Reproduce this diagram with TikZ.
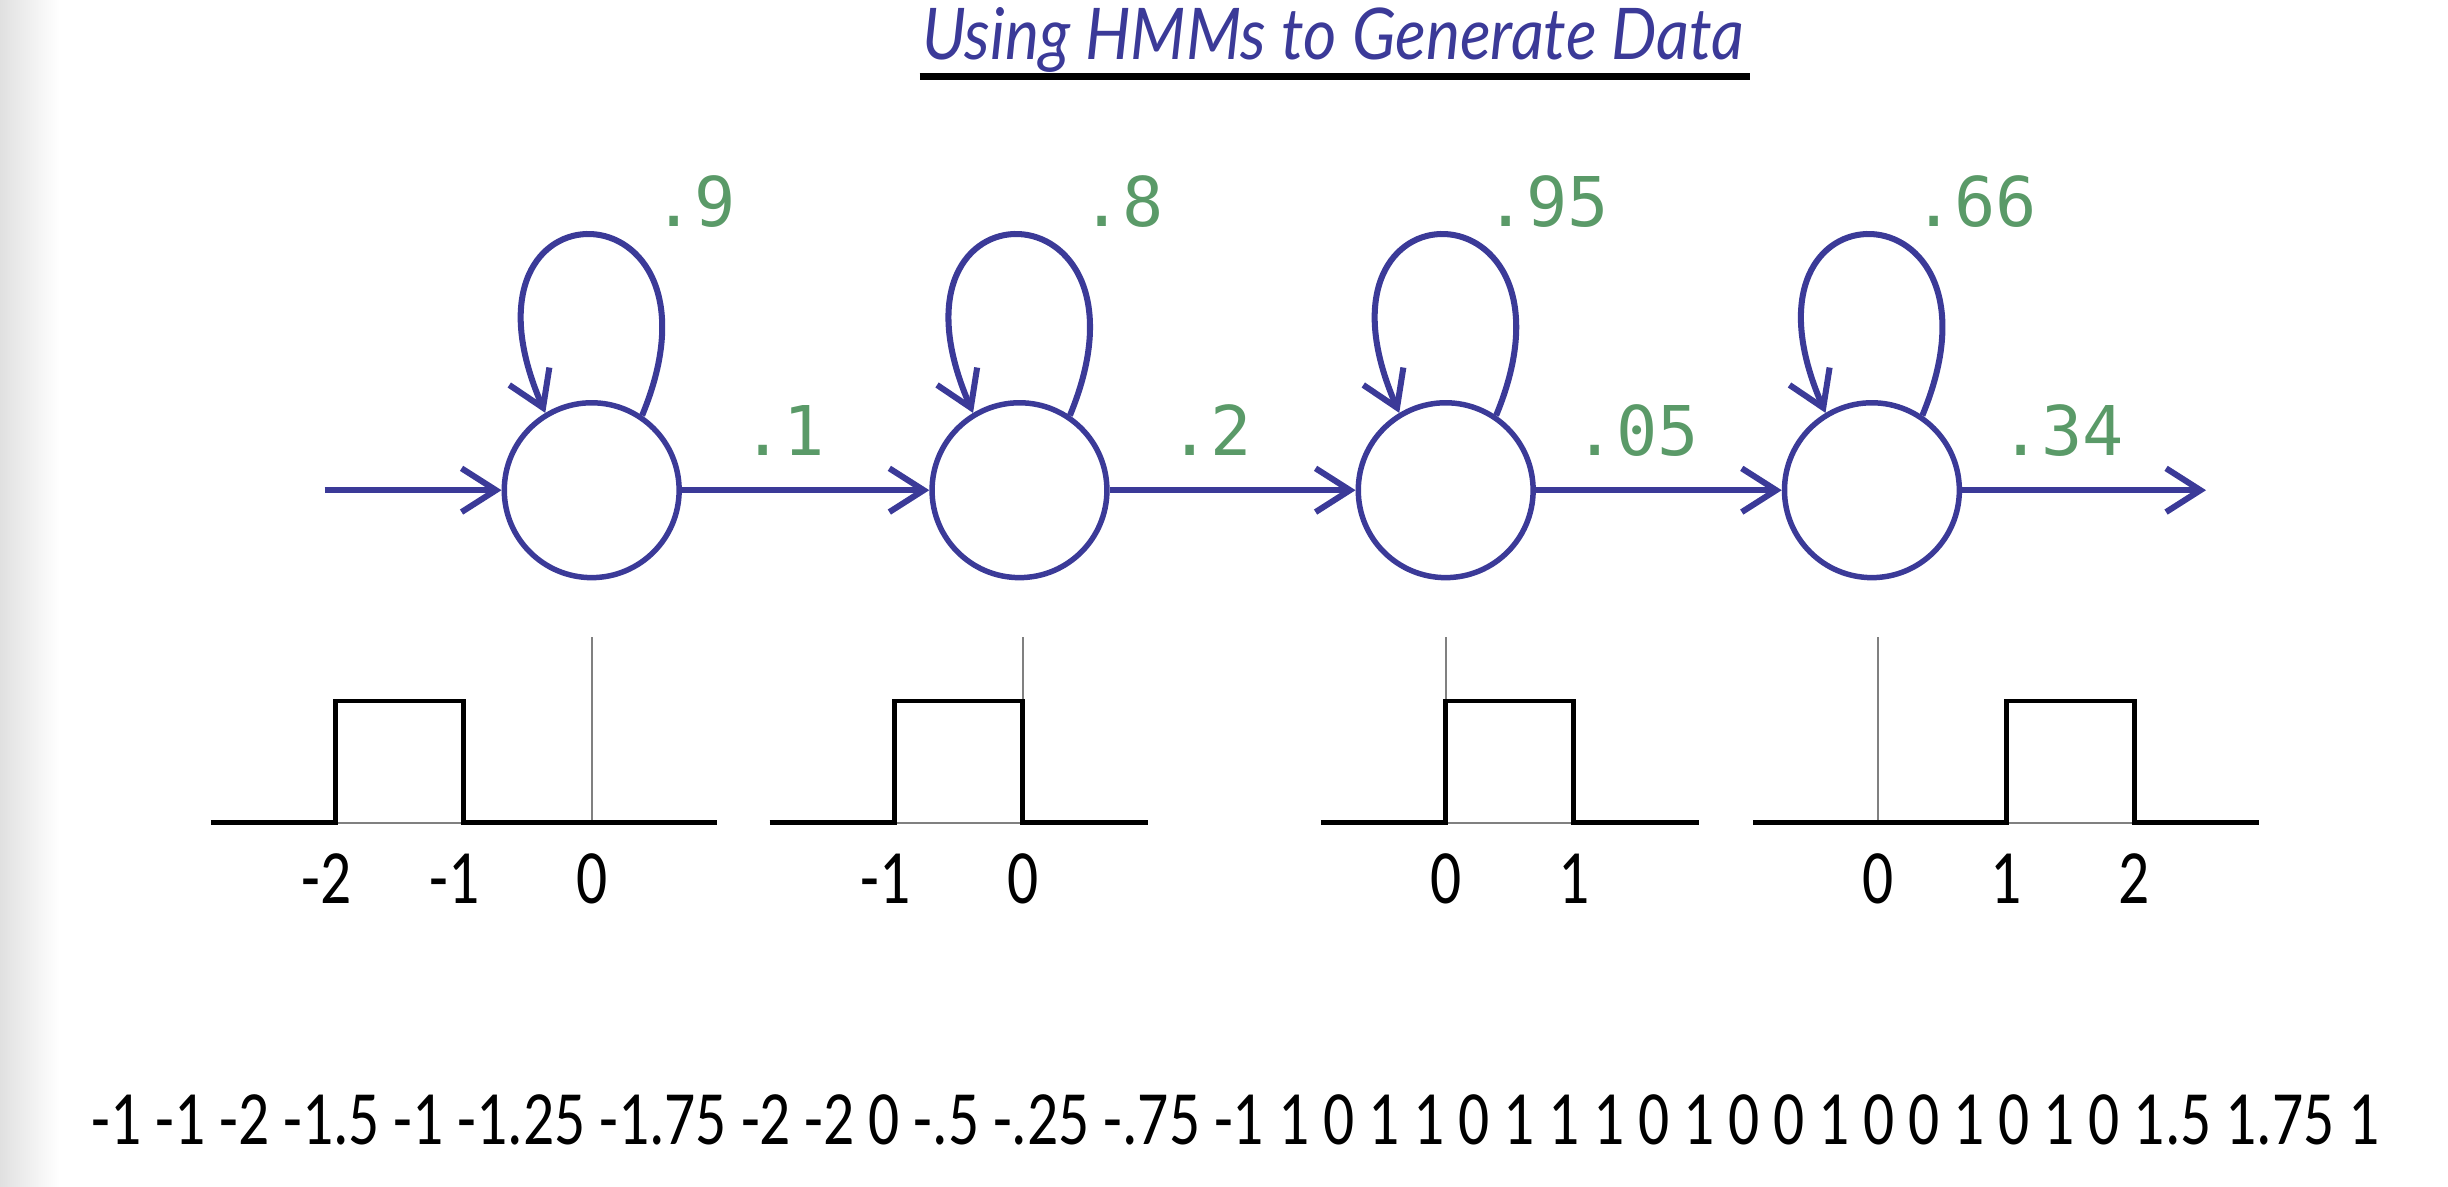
\documentclass[tikz,border=0pt]{standalone}
\usepackage{fontspec}
\usetikzlibrary{arrows.meta}

\newfontfamily\titlefont[FakeStretch=0.9]{Lato}
\newfontfamily\probfont{DejaVu Sans Mono}
\newfontfamily\numfont[FakeStretch=0.80]{Carlito}

\definecolor{hmmblue}{RGB}{59,58,152}
\definecolor{probgreen}{RGB}{90,154,104}

\tikzset{
  hmmstate/.style={circle, draw=hmmblue, line width=1pt, minimum size=1.12cm, inner sep=0pt},
  trans/.style={draw=hmmblue, line width=1.1pt, -{Straight Barb[length=0.22cm, width=0.28cm]}},
  prob/.style={text=probgreen, anchor=base, font=\probfont\fontsize{12.5}{14}\selectfont},
  ticklabel/.style={anchor=base, font=\numfont\fontsize{14}{16}\selectfont},
  pdf/.style={line width=0.9pt, line join=miter},
  zeroaxis/.style={gray, line width=0.4pt},
}

\begin{document}
\begin{tikzpicture}
  \useasboundingbox (0,0) rectangle (15.68,7.60);
  \shade[left color=black!12, right color=white] (0,0) rectangle (0.38,7.60);  % edge of the slide

  % title
  \node[anchor=base, text=hmmblue, font=\titlefont\itshape\fontsize{13}{15}\selectfont] (title) at (8.54,7.22) {Using HMMs to Generate Data};
  \draw[line width=1.3pt] (5.89,7.11) -- (11.21,7.11);  % underline

  % hidden states
  \node[hmmstate] (s1) at (3.79,4.46) {};
  \node[hmmstate] (s2) at (6.53,4.46) {};
  \node[hmmstate] (s3) at (9.26,4.46) {};
  \node[hmmstate] (s4) at (11.99,4.46) {};
  \coordinate (start) at (2.08,4.46);  % free end of the entry arrow
  \coordinate (stop) at (14.13,4.46);  % free end of the exit arrow

  % transitions to the next state
  \draw[trans] (start) -- (s1);
  \draw[trans] (s1) -- node[prob, pos=0.41, yshift=0.22cm] (p12) {.1} (s2);
  \draw[trans] (s2) -- node[prob, pos=0.41, yshift=0.22cm] (p23) {.2} (s3);
  \draw[trans] (s3) -- node[prob, pos=0.41, yshift=0.22cm] (p34) {.05} (s4);
  \draw[trans] (s4) -- node[prob, pos=0.41, yshift=0.22cm] (p4e) {.34} (stop);

  % self loops
  \foreach \s in {s1,s2,s3,s4}
    \draw[trans] (\s.56) .. controls +(0.63,1.52) and +(-0.67,1.54) .. (\s.121);
  \node[prob] (p11) at (4.45,6.15) {.9};  % stay probability
  \node[prob] (p22) at (7.19,6.15) {.8};
  \node[prob] (p33) at (9.91,6.15) {.95};
  \node[prob] (p44) at (12.65,6.15) {.66};

  % uniform emission densities
  \foreach \cx/\lo/\hi/\a [count=\i] in {3.79/-2/0/-2, 6.55/-1/0/-1, 9.26/0/1/0, 12.03/0/2/1} {
    \draw[zeroaxis] ({\cx+(\lo)*0.82-0.80},2.33) -- ({\cx+(\hi)*0.82+0.80},2.33);  % axis
    \draw[zeroaxis] (\cx,2.33) -- (\cx,3.52);  % zero line
    \draw[pdf] ({\cx+(\lo)*0.82-0.80},2.33) -- ({\cx+(\a)*0.82},2.33)
      -- ({\cx+(\a)*0.82},3.11) -- ({\cx+(\a)*0.82+0.82},3.11)
      -- ({\cx+(\a)*0.82+0.82},2.33) -- ({\cx+(\hi)*0.82+0.80},2.33);  % box
    \foreach \t in {\lo,...,\hi}
      \node[ticklabel] (tick-\i-\t) at ({\cx+(\t)*0.82},1.81)
        {\ifnum\t<0 \llap{-}\number-\t\else\t\fi};
  }

  % generated sequence
  \node[anchor=base, font=\numfont\fontsize{14}{16}\selectfont] (data) at (7.915,0.27)
    {-1 -1 -2 -1.5 -1 -1.25 -1.75 -2 -2 0 -.5 -.25 -.75 -1 1 0 1 1 0 1 1 1 0 1 0 0 1 0 0 1 0 1 0 1.5 1.75 1};
\end{tikzpicture}
\end{document}
